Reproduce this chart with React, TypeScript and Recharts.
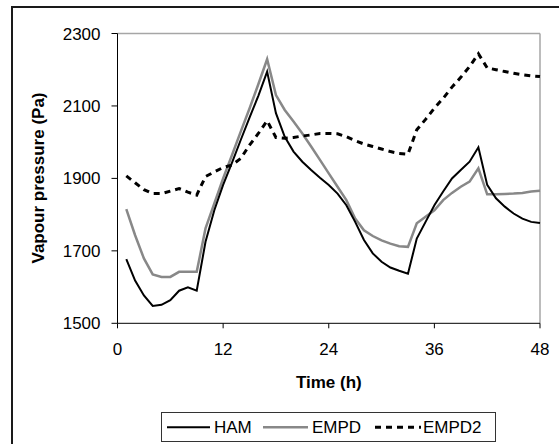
import { CartesianGrid, Line, LineChart, ReferenceLine, XAxis, YAxis } from "recharts";

const hours = [
  1, 2, 3, 4, 5, 6, 7, 8, 9, 10, 11, 12, 13, 14, 15, 16, 17, 18, 19, 20, 21, 22, 23, 24,
  25, 26, 27, 28, 29, 30, 31, 32, 33, 34, 35, 36, 37, 38, 39, 40, 41, 42, 43, 44, 45, 46, 47, 48,
];

const ham = [
  1677, 1618, 1577, 1548, 1551, 1564, 1590, 1599, 1590, 1725, 1812, 1882, 1943, 2006, 2068, 2128,
  2195, 2080, 2015, 1974, 1946, 1923, 1902, 1882, 1858, 1826, 1780, 1730, 1693, 1670, 1654, 1645,
  1637, 1734, 1780, 1826, 1864, 1900, 1923, 1946, 1986, 1882, 1845, 1822, 1803, 1789, 1780, 1777,
];

const empd = [
  1815, 1743, 1679, 1635, 1628, 1628, 1642, 1642, 1642, 1762, 1831, 1900, 1964, 2029, 2093, 2160,
  2229, 2130, 2089, 2057, 2024, 1988, 1951, 1914, 1877, 1840, 1789, 1757, 1741, 1729, 1720, 1713,
  1711, 1776, 1794, 1812, 1840, 1860, 1877, 1891, 1928, 1856, 1856, 1857, 1858, 1860, 1864, 1866,
];

const empd2 = [
  1907, 1888, 1869, 1858, 1858, 1865, 1872, 1862, 1854, 1905, 1918, 1930, 1937, 1955, 1992, 2024,
  2059, 2013, 2011, 2013, 2017, 2020, 2024, 2024, 2023, 2015, 2004, 1995, 1988, 1981, 1974, 1969,
  1967, 2034, 2063, 2094, 2121, 2152, 2179, 2209, 2244, 2205, 2200, 2195, 2190, 2186, 2183, 2181,
];

const xTicks = [0, 12, 24, 36, 48];
const yTicks = [1500, 1700, 1900, 2100, 2300];

const data = hours.map((t, i) => ({ t, ham: ham[i], empd: empd[i], empd2: empd2[i] }));

const font = "'Liberation Sans', Arial, sans-serif";
const tick = { fill: "#000", fontSize: 17, fontFamily: font };

export default function App() {
  return (
    <div
      style={{
        position: "absolute",
        left: 0,
        top: 0,
        width: 559,
        height: 444,
        overflow: "hidden",
        background: "#fff",
        fontFamily: font,
      }}
    >
      {/* outer frame, cropped on the right and bottom */}
      <div
        style={{
          position: "absolute",
          left: 11,
          top: 6,
          width: 700,
          height: 700,
          border: "2px solid #1a1a1a",
        }}
      />
      <div style={{ position: "absolute", left: 0, top: 0 }}>
        <LineChart
          data={data}
          width={559}
          height={444}
          margin={{ top: 33.5, right: 19, left: 0, bottom: 0 }}
        >
          <CartesianGrid stroke="none" />
          <XAxis
            dataKey="t"
            type="number"
            domain={[0, 48]}
            ticks={xTicks}
            height={120.7}
            tick={tick}
            tickSize={5}
            tickMargin={15}
            stroke="#000"
            axisLine={{ stroke: "#000", strokeWidth: 1 }}
            tickLine={{ stroke: "#000" }}
          />
          <YAxis
            type="number"
            domain={[1500, 2300]}
            ticks={yTicks}
            width={117.5}
            tick={tick}
            tickSize={6}
            tickMargin={11}
            axisLine={{ stroke: "#000", strokeWidth: 1 }}
            tickLine={{ stroke: "#000" }}
          />
          <ReferenceLine y={2300} stroke="#a6a6a6" strokeWidth={1.5} />
          <ReferenceLine x={48} stroke="#a6a6a6" strokeWidth={1.5} />
          <Line
            dataKey="empd"
            stroke="#888888"
            strokeWidth={2.5}
            dot={false}
            isAnimationActive={false}
            type="linear"
          />
          <Line
            dataKey="ham"
            stroke="#000"
            strokeWidth={2}
            dot={false}
            isAnimationActive={false}
            type="linear"
          />
          <Line
            dataKey="empd2"
            stroke="#000"
            strokeWidth={3}
            strokeDasharray="6 5"
            dot={false}
            isAnimationActive={false}
            type="linear"
          />
        </LineChart>
      </div>

      <div
        style={{
          position: "absolute",
          left: 39,
          top: 178.4,
          transform: "translate(-50%, -50%) rotate(-90deg)",
          whiteSpace: "nowrap",
          fontWeight: "bold",
          fontSize: 17,
          lineHeight: "20px",
        }}
      >
        Vapour pressure (Pa)
      </div>
      <div
        style={{
          position: "absolute",
          left: 328.8,
          top: 373,
          transform: "translateX(-50%)",
          whiteSpace: "nowrap",
          fontWeight: "bold",
          fontSize: 17,
          lineHeight: "20px",
        }}
      >
        Time (h)
      </div>

      <svg
        width={559}
        height={444}
        style={{ position: "absolute", left: 0, top: 0, pointerEvents: "none" }}
      >
        <rect x={161.5} y={412.5} width={334} height={29} fill="#fff" stroke="#333" strokeWidth={1} />
        <line x1={167} y1={427.3} x2={210} y2={427.3} stroke="#000" strokeWidth={2} />
        <text x={214} y={433} fontSize={17} fontFamily={font} fill="#000">HAM</text>
        <line x1={263} y1={427.3} x2={308} y2={427.3} stroke="#888888" strokeWidth={2.5} />
        <text x={312} y={433} fontSize={17} fontFamily={font} fill="#000">EMPD</text>
        <line x1={375} y1={427.3} x2={421} y2={427.3} stroke="#000" strokeWidth={3} strokeDasharray="6 5" />
        <text x={423} y={433} fontSize={17} fontFamily={font} fill="#000">EMPD2</text>
      </svg>
    </div>
  );
}
